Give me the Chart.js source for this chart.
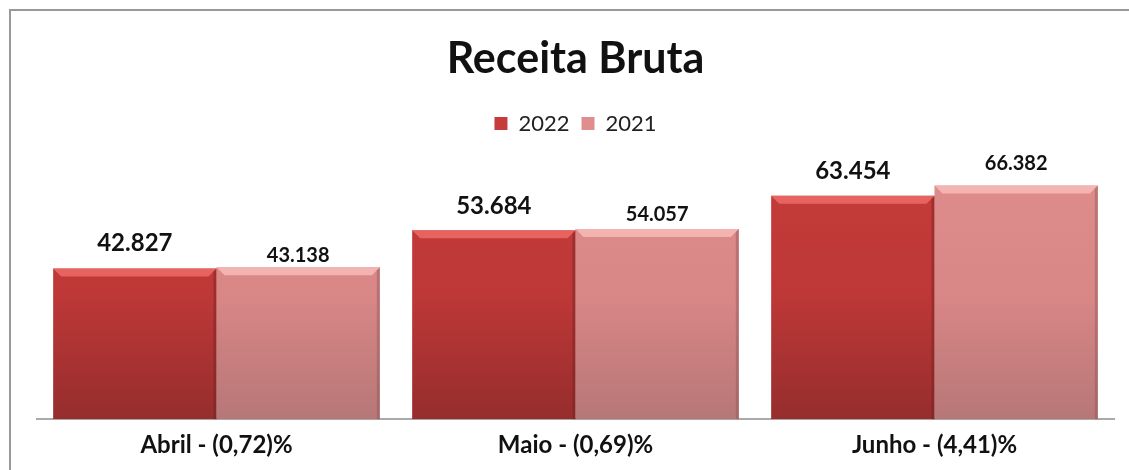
<!DOCTYPE html>
<html>
<head>
<meta charset="utf-8">
<script src="https://cdn.jsdelivr.net/npm/chart.js@4"></script>
<style>
  html, body { margin: 0; padding: 0; background: #fff; }
  #wrap { width: 1129px; height: 470px; }
</style>
</head>
<body>
<div id="wrap"><canvas id="receitaChart"></canvas></div>
<script>
const meses = ['Abril - (0,72)%', 'Maio - (0,69)%', 'Junho - (4,41)%'];
const receita2022 = [42827, 53684, 63454];
const receita2021 = [43138, 54057, 66382];

const FONT = 'Lato, "Open Sans", "Noto Sans", sans-serif';

// vertical gradient for the bars, plain colour for the legend
function barFill(top, mid, bottom) {
    return function(context) {
        const chart = context.chart;
        const area = chart.chartArea;
        if (!area || context.type !== 'data') return top;
        const g = chart.ctx.createLinearGradient(0, area.top, 0, area.bottom);
        g.addColorStop(0, top);
        g.addColorStop(0.55, mid);
        g.addColorStop(1, bottom);
        return g;
    };
}

// light bevel on top of each bar, darker line on the sides
const bevelPlugin = {
    id: 'bevel',
    afterDatasetsDraw(chart, args, opts) {
        const ctx = chart.ctx;
        chart.data.datasets.forEach((ds, i) => {
            const meta = chart.getDatasetMeta(i);
            meta.data.forEach(bar => {
                const left = bar.x - bar.width / 2;
                const right = bar.x + bar.width / 2;
                const top = bar.y;
                const b = 8;
                ctx.save();
                ctx.fillStyle = opts.light[i];
                ctx.beginPath();
                ctx.moveTo(left, top);
                ctx.lineTo(right, top);
                ctx.lineTo(right - b, top + b);
                ctx.lineTo(left + b, top + b);
                ctx.closePath();
                ctx.fill();
                ctx.fillStyle = opts.dark[i];
                ctx.beginPath();
                ctx.moveTo(right, top);
                ctx.lineTo(right, bar.base);
                ctx.lineTo(right - 3, bar.base);
                ctx.lineTo(right - 3, top + 3);
                ctx.closePath();
                ctx.fill();
                ctx.restore();
            });
        });
    }
};

// value labels above the bars
const valueLabels = {
    id: 'valueLabels',
    afterDatasetsDraw(chart, args, opts) {
        const ctx = chart.ctx;
        chart.data.datasets.forEach((ds, i) => {
            const meta = chart.getDatasetMeta(i);
            meta.data.forEach((bar, j) => {
                ctx.save();
                ctx.font = 'bold ' + opts.sizes[i] + 'px ' + FONT;
                ctx.fillStyle = '#111';
                ctx.textAlign = 'center';
                ctx.textBaseline = 'middle';
                const txt = ds.data[j].toLocaleString('pt-BR');
                ctx.fillText(txt, bar.x, bar.y - opts.offsets[i][j]);
                ctx.restore();
            });
        });
    }
};

// grey frame on the left and top like the original
const framePlugin = {
    id: 'frame',
    beforeDraw(chart) {
        const ctx = chart.ctx;
        ctx.save();
        ctx.strokeStyle = '#999';
        ctx.lineWidth = 2;
        ctx.beginPath();
        ctx.moveTo(10, chart.height);
        ctx.lineTo(10, 10);
        ctx.lineTo(chart.width, 10);
        ctx.stroke();
        ctx.restore();
    }
};

const ctx = document.getElementById('receitaChart').getContext('2d');
new Chart(ctx, {
    type: 'bar',
    data: {
        labels: meses,
        datasets: [
            {
                label: '2022',
                data: receita2022,
                backgroundColor: barFill('#c63c3a', '#bd3837', '#962d2d'),
                borderWidth: 0
            },
            {
                label: '2021',
                data: receita2021,
                backgroundColor: barFill('#e08d8d', '#d98686', '#b77777'),
                borderWidth: 0
            }
        ]
    },
    plugins: [framePlugin, bevelPlugin, valueLabels],
    options: {
        responsive: true,
        maintainAspectRatio: false,
        animation: false,
        layout: { padding: { left: 37, right: 15, top: 0, bottom: 6 } },
        datasets: {
            bar: { categoryPercentage: 0.91, barPercentage: 1 }
        },
        plugins: {
            title: {
                display: true,
                text: 'Receita Bruta',
                color: '#111',
                font: { family: FONT, size: 43, weight: 'bold' },
                padding: { top: 33, bottom: 16 }
            },
            legend: {
                display: true,
                position: 'top',
                labels: {
                    color: '#222',
                    font: { family: FONT, size: 22 },
                    boxWidth: 13,
                    boxHeight: 13,
                    padding: 12
                }
            },
            tooltip: { enabled: false },
            bevel: {
                light: ['rgba(240,110,105,0.8)', 'rgba(248,190,188,0.8)'],
                dark: ['rgba(110,30,30,0.4)', 'rgba(140,80,80,0.4)']
            },
            valueLabels: {
                sizes: [24, 20],
                offsets: [[25, 24, 25], [12, 14, 22]]
            }
        },
        scales: {
            x: {
                grid: { display: false },
                border: { display: true, color: '#aaa', width: 2 },
                ticks: {
                    color: '#111',
                    font: { family: FONT, size: 24, weight: 'bold' },
                    padding: 4
                }
            },
            y: {
                display: false,
                min: 0,
                max: 78000
            }
        }
    }
});
</script>
</body>
</html>
